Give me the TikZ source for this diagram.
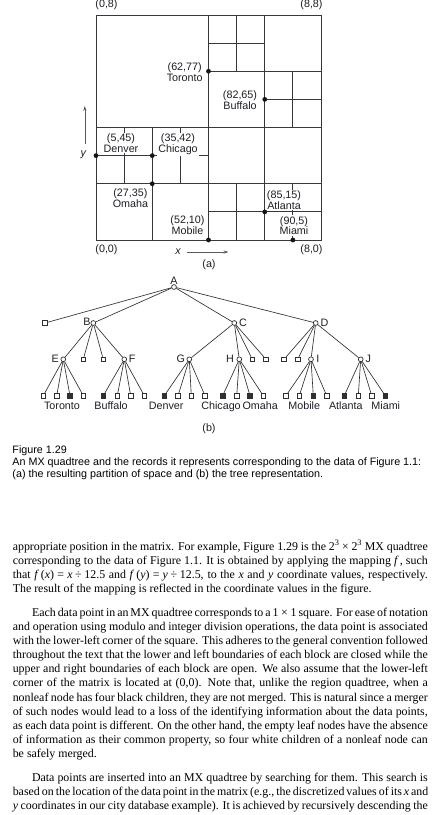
\documentclass[tikz,border=0pt]{standalone}
\usepackage{fontspec}
\setmainfont{Liberation Serif}
\setsansfont{Liberation Sans}
\usetikzlibrary{arrows.meta}
\definecolor{gridc}{HTML}{383838}
\definecolor{treec}{HTML}{303030}
\definecolor{figtext}{HTML}{1E1E26}
\definecolor{dotc}{HTML}{151515}
\definecolor{arrc}{HTML}{5A5A5A}
\newcommand\myfig{\sffamily\fontsize{10.75}{10.8}\selectfont}
\newcommand\mybody{\rmfamily\fontsize{11.9}{14.2}\selectfont}
\newcommand\eqsp{\kern3.2pt}
\newcommand\opsp{\kern2.7pt}
\begin{document}
\begin{tikzpicture}[x=1pt,y=-1pt,
  gline/.style={draw=gridc,line width=0.85pt},
  gdot/.style={circle,fill=dotc,inner sep=0pt,minimum size=4.8pt},
  glab/.style={font=\myfig,text=figtext,align=center,fill=white,inner sep=1pt,anchor=north},
  flab/.style={font=\myfig,text=figtext,inner sep=0pt,anchor=base},
  inode/.style={circle,draw=treec,fill=white,line width=0.7pt,inner sep=0pt,minimum size=4.8pt},
  wleaf/.style={rectangle,draw=treec,fill=white,line width=0.7pt,inner sep=0pt,minimum size=4.5pt},
  bleaf/.style={rectangle,draw=treec,fill=treec,line width=0.7pt,inner sep=0pt,minimum size=4.5pt},
  tedge/.style={draw=treec,line width=0.65pt},
  axarr/.style={draw=arrc,line width=0.6pt,-{Stealth[length=5pt,width=3.2pt]}},
  bl/.style={anchor=base west,inner sep=0pt,font=\mybody},
  captxt/.style={anchor=base west,inner sep=0pt,font=\myfig,text=black}]
\useasboundingbox[fill=white] (0,0) rectangle (435,815);

% ---------------- (a) MX quadtree partition ----------------
\begin{scope}[shift={(96,240)},x=28.125pt,y=28.125pt]
  \draw[gline] (0,0) rectangle (8,8);
  \draw[gline] (4,0) -- (4,8);
  \draw[gline] (6,0) -- (6,8);
  \draw[gline] (0,4) -- (8,4);
  \draw[gline] (4,6) -- (8,6);
  \draw[gline] (5,6) -- (5,8);
  \draw[gline] (4,7) -- (6,7);
  \draw[gline] (7,4) -- (7,6);
  \draw[gline] (6,5) -- (8,5);
  \draw[gline] (2,0) -- (2,4);
  \draw[gline] (0,2) -- (8,2);
  \draw[gline] (1,2) -- (1,4);
  \draw[gline] (0,3) -- (2,3);
  \draw[gline] (3,2) -- (3,4);
  \draw[gline] (2,3) -- (4,3);
  \draw[gline] (5,0) -- (5,2);
  \draw[gline] (4,1) -- (6,1);
  \draw[gline] (7,0) -- (7,2);
  \draw[gline] (6,1) -- (8,1);
\end{scope}

\node[glab] (ltor) at (184.7,61.8) {(62,77)\\Toronto};
\node[glab] (lbuf) at (240,89.5) {(82,65)\\Buffalo};
\node[glab] (lden) at (121,132.5) {(5,45)\\Denver};
\node[glab] (lchi) at (178,132.5) {(35,42)\\Chicago};
\node[glab] (loma) at (130.4,187.8) {(27,35)\\Omaha};
\node[glab] (lmob) at (187.5,214.5) {(52,10)\\Mobile};
\node[glab] (latl) at (284,189.5) {(85,15)\\Atlanta};
\node[glab] (lmia) at (294,215.2) {(90,5)\\Miami};

\begin{scope}[shift={(96,240)},x=28.125pt,y=28.125pt]
  \node[gdot] (ptor) at (4,6) {};
  \node[gdot] (pbuf) at (6,5) {};
  \node[gdot] (pden) at (0,3) {};
  \node[gdot] (pchi) at (2,3) {};
  \node[gdot] (poma) at (2,2) {};
  \node[gdot] (pmob) at (4,0) {};
  \node[gdot] (patl) at (6,1) {};
  \node[gdot] (pmia) at (7,0) {};
\end{scope}

\node[flab] (c08) at (106.5,7.8) {(0,8)};
\node[flab] (c88) at (311.5,7.8) {(8,8)};
\node[flab] (c00) at (106.5,252.5) {(0,0)};
\node[flab] (c80) at (311.5,252.5) {(8,0)};
\node[flab] (xl) at (178,254.5) {\itshape x};
\node[flab] (yl) at (83.3,156) {\itshape y};
\coordinate (xs) at (187.3,252);
\coordinate (xe) at (228.5,252);
\coordinate (ys) at (84.8,143.5);
\coordinate (ye) at (84.8,106);
\draw[axarr] (xs) -- (xe);
\draw[axarr] (ys) -- (ye);
\node[flab] (capa) at (209,267.5) {(a)};

% ---------------- (b) tree ----------------
\node[inode] (A) at (174,287) {};
\node[wleaf] (A1) at (45,323) {};
\node[inode] (B) at (93.3,323) {};
\node[inode] (C) at (234.3,323) {};
\node[inode] (D) at (315.7,323) {};
\node[inode] (E) at (63.3,359.3) {};
\node[wleaf] (B2) at (83.3,359.3) {};
\node[wleaf] (B3) at (103.3,359.3) {};
\node[inode] (F) at (124.3,359.3) {};
\node[inode] (G) at (189.3,359.3) {};
\node[inode] (H) at (239.3,359.3) {};
\node[wleaf] (C3) at (252.3,359.3) {};
\node[wleaf] (C4) at (266,359.3) {};
\node[wleaf] (D1) at (284,359.3) {};
\node[wleaf] (D2) at (297.7,359.3) {};
\node[inode] (I) at (311,359.3) {};
\node[inode] (J) at (360.7,359.3) {};

\foreach \p/\xx/\st in {E1/43.3/wleaf,E2/56.7/wleaf,E3/70/bleaf,E4/83.3/wleaf,
  F1/103.3/bleaf,F2/117.3/wleaf,F3/130.7/wleaf,F4/144.3/wleaf,
  G1/164.3/bleaf,G2/178/wleaf,G3/191.3/wleaf,G4/205/wleaf,
  H1/222.7/bleaf,H2/236.7/wleaf,H3/250/bleaf,H4/263.3/wleaf,
  I1/286/wleaf,I2/299.3/wleaf,I3/313.3/bleaf,I4/326.7/wleaf,
  J1/344.3/bleaf,J2/358.3/wleaf,J3/371.7/wleaf,J4/385.3/bleaf}
  \node[\st] (\p) at (\xx,395.7) {};

\foreach \c in {A1,B,C,D} \draw[tedge] (A) -- (\c);
\foreach \c in {E,B2,B3,F} \draw[tedge] (B) -- (\c);
\foreach \c in {G,H,C3,C4} \draw[tedge] (C) -- (\c);
\foreach \c in {D1,D2,I,J} \draw[tedge] (D) -- (\c);
\foreach \n in {E,F,G,H,I,J}
  \foreach \k in {1,2,3,4} \draw[tedge] (\n) -- (\n\k);

\node[flab] (lA) at (174,284) {A};
\node[flab] (lB) at (87,325.7) {B};
\node[flab] (lC) at (243,326) {C};
\node[flab] (lD) at (324.5,326) {D};
\node[flab] (lE) at (55.2,362.7) {E};
\node[flab] (lF) at (132.2,362.7) {F};
\node[flab] (lG) at (180.8,362.7) {G};
\node[flab] (lH) at (230,362.7) {H};
\node[flab] (lI) at (317.8,362.7) {I};
\node[flab] (lJ) at (368.2,362.7) {J};

\node[flab] (nTor) at (62,409.5) {Toronto};
\node[flab] (nBuf) at (111,409.5) {Buffalo};
\node[flab] (nDen) at (166.2,409.5) {Denver};
\node[flab] (nChi) at (221,409.5) {Chicago};
\node[flab] (nOma) at (260.2,409.5) {Omaha};
\node[flab] (nMob) at (304.2,409.5) {Mobile};
\node[flab] (nAtl) at (345.8,409.5) {Atlanta};
\node[flab] (nMia) at (385.8,409.5) {Miami};
\node[flab] (capb) at (209,431) {(b)};

% ---------------- caption ----------------
\node[captxt] (cap1) at (12.3,453.7) {Figure 1.29};
\node[captxt] (cap2) at (12.3,465.7) {An MX quadtree and the records it represents corresponding to the data of Figure 1.1:};
\node[captxt] (cap3) at (12.3,477.7) {(a) the resulting partition of space and (b) the tree representation.};

% ---------------- body text ----------------
\node[bl] (t01) at (12.6,550.0) {\makebox[415pt][s]{appropriate position in the matrix. For example, Figure 1.29 is the 2\textsuperscript{3}\opsp×\opsp2\textsuperscript{3} MX quadtree}};
\node[bl] (t02) at (12.6,564.2) {\makebox[415pt][s]{corresponding to the data of Figure 1.1. It is obtained by applying the mapping \textit{f}\kern1pt, such}};
\node[bl] (t03) at (12.6,578.3) {\makebox[415pt][s]{that \textit{f}\kern2pt(\textit{x})\eqsp=\eqsp\textit{x}\opsp÷\opsp12.5 and \textit{f}\kern2pt(\textit{y})\eqsp=\eqsp\textit{y}\opsp÷\opsp12.5, to the \textit{x} and \textit{y} coordinate values, respectively.}};
\node[bl] (t04) at (12.6,592.5) {The result of the mapping is reflected in the coordinate values in the figure.};

\node[bl] (t05) at (31.8,616.0) {\makebox[395.8pt][s]{Each data point in an MX quadtree corresponds to a 1\opsp×\opsp1 square. For ease of notation}};
\node[bl] (t06) at (12.6,630.2) {\makebox[415pt][s]{and operation using modulo and integer division operations, the data point is associated}};
\node[bl] (t07) at (12.6,644.3) {\makebox[415pt][s]{with the lower-left corner of the square. This adheres to the general convention followed}};
\node[bl] (t08) at (12.6,658.5) {\makebox[415pt][s]{throughout the text that the lower and left boundaries of each block are closed while the}};
\node[bl] (t09) at (12.6,672.7) {\makebox[415pt][s]{upper and right boundaries of each block are open. We also assume that the lower-left}};
\node[bl] (t10) at (12.6,686.9) {\makebox[415pt][s]{corner of the matrix is located at (0,0). Note that, unlike the region quadtree, when a}};
\node[bl] (t11) at (12.6,701.0) {\makebox[415pt][s]{nonleaf node has four black children, they are not merged. This is natural since a merger}};
\node[bl] (t12) at (12.6,715.2) {\makebox[415pt][s]{of such nodes would lead to a loss of the identifying information about the data points,}};
\node[bl] (t13) at (12.6,729.4) {\makebox[415pt][s]{as each data point is different. On the other hand, the empty leaf nodes have the absence}};
\node[bl] (t14) at (12.6,743.5) {\makebox[415pt][s]{of information as their common property, so four white children of a nonleaf node can}};
\node[bl] (t15) at (12.6,757.7) {be safely merged.};

\node[bl] (t16) at (31.8,781.0) {\makebox[395.8pt][s]{Data points are inserted into an MX quadtree by searching for them. This search is}};
\node[bl] (t17) at (12.6,795.2) {\makebox[415pt][s]{based on the location of the data point in the matrix (e.g., the discretized values of its \textit{x} and}};
\node[bl] (t18) at (12.6,809.3) {\makebox[415pt][s]{\textit{y} coordinates in our city database example). It is achieved by recursively descending the}};
\end{tikzpicture}
\end{document}
